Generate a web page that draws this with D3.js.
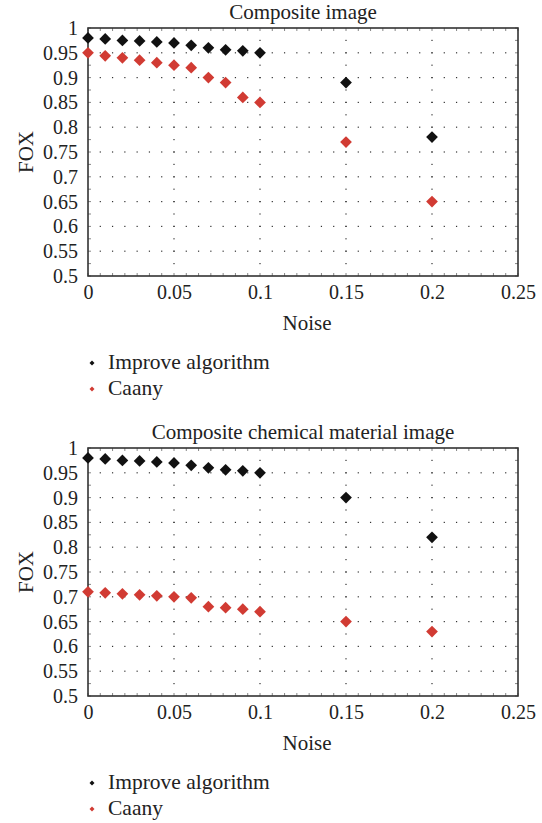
<!DOCTYPE html>
<html><head><meta charset="utf-8">
<script src="https://cdn.jsdelivr.net/npm/d3@7"></script>
<style>
body{margin:0;background:#fff;}
</style></head>
<body><svg id="c" width="542" height="823" font-family="'Liberation Serif', 'Times New Roman', serif"></svg>
<script>
const noise = [0,0.01,0.02,0.03,0.04,0.05,0.06,0.07,0.08,0.09,0.1,0.15,0.2];
const titles = ["Composite image","Composite chemical material image"];
const seriesNames = ["Improve algorithm","Caany"];
const improve1 = [0.98,0.978,0.975,0.974,0.972,0.97,0.965,0.96,0.956,0.954,0.95,0.89,0.78];
const caany1   = [0.95,0.944,0.94,0.935,0.93,0.925,0.92,0.90,0.89,0.86,0.85,0.77,0.65];
const improve2 = [0.98,0.978,0.975,0.974,0.972,0.97,0.965,0.96,0.956,0.954,0.95,0.90,0.82];
const caany2   = [0.71,0.708,0.706,0.704,0.702,0.70,0.698,0.68,0.678,0.675,0.67,0.65,0.63];
const xTicks = [0,0.05,0.1,0.15,0.2,0.25];
const yTicks = [0.5,0.55,0.6,0.65,0.7,0.75,0.8,0.85,0.9,0.95,1];
const colors = ["#111111","#d13b33"];
const FF = "'Liberation Serif', 'Times New Roman', serif";

const svg = d3.select("#c");
const L=88, R=518, PT=28, PB=276;
const fmt = d=>String(+d.toFixed(2));

function panel(off, title, a, b){
  const g = svg.append("g").attr("transform",`translate(0,${off})`).attr("font-family",FF);
  const x = d3.scaleLinear().domain([0,0.25]).range([L,R]);
  const y = d3.scaleLinear().domain([0.5,1]).range([PB,PT]);
  const xMinor = d3.range(0,0.25+1e-9,0.05/7);
  const yMinor = d3.range(0.5,1+1e-9,0.025);
  const grid = g.append("g").attr("fill","#333");
  yTicks.filter(v=>v>0.5&&v<1).forEach(v=>{
    xMinor.filter(u=>u>0.001&&u<0.249).forEach(u=>{
      grid.append("rect").attr("x",x(u)-0.6).attr("y",y(v)-0.6).attr("width",1.2).attr("height",1.2);
    });
  });
  xTicks.filter(u=>u>0&&u<0.25).forEach(u=>{
    yMinor.filter(v=>v>0.501&&v<0.999).forEach(v=>{
      grid.append("rect").attr("x",x(u)-0.6).attr("y",y(v)-0.6).attr("width",1.2).attr("height",1.2);
    });
  });
  const mt = g.append("g").attr("stroke","#666").attr("stroke-width",0.8);
  xMinor.forEach(u=>{
    mt.append("line").attr("x1",x(u)).attr("x2",x(u)).attr("y1",PB).attr("y2",PB-3);
    mt.append("line").attr("x1",x(u)).attr("x2",x(u)).attr("y1",PT).attr("y2",PT+3);
  });
  yMinor.forEach(v=>{
    mt.append("line").attr("y1",y(v)).attr("y2",y(v)).attr("x1",L).attr("x2",L+3);
    mt.append("line").attr("y1",y(v)).attr("y2",y(v)).attr("x1",R).attr("x2",R-3);
  });
  g.append("rect").attr("x",L).attr("y",PT).attr("width",R-L).attr("height",PB-PT)
    .attr("fill","none").attr("stroke","#333").attr("stroke-width",1.6);
  const xa = g.append("g").attr("transform",`translate(0,${PB})`)
    .call(d3.axisBottom(x).tickValues(xTicks).tickSize(0).tickPadding(0).tickFormat(fmt));
  xa.attr("font-family",FF).attr("font-size",20);
  xa.select(".domain").remove();
  xa.selectAll("text").attr("dy",null).attr("y",23).attr("fill","#222");
  const ya = g.append("g").attr("transform",`translate(${L},0)`)
    .call(d3.axisLeft(y).tickValues(yTicks).tickSize(0).tickPadding(10).tickFormat(fmt));
  ya.attr("font-family",FF).attr("font-size",20);
  ya.select(".domain").remove();
  ya.selectAll("text").attr("fill","#222");
  g.append("text").attr("x",(L+R)/2).attr("y",19).attr("text-anchor","middle").attr("font-size",21).attr("fill","#222").text(title);
  g.append("text").attr("x",(L+R)/2+4).attr("y",330).attr("text-anchor","middle").attr("font-size",21).attr("fill","#222").text("Noise");
  g.append("text").attr("transform",`translate(33,${(PT+PB)/2}) rotate(-90)`).attr("text-anchor","middle").attr("font-size",21).attr("fill","#222").text("FOX");
  const sym = d3.symbol().type(d3.symbolDiamond2).size(88);
  [a,b].forEach((vals,si)=>{
    g.append("g").selectAll("path").data(vals).join("path")
      .attr("transform",(d,i)=>`translate(${x(noise[i])},${y(d)})`)
      .attr("d",sym).attr("fill",colors[si]);
  });
  const ls = d3.symbol().type(d3.symbolDiamond2).size(16);
  seriesNames.forEach((n,i)=>{
    const yy = 363 + i*26;
    g.append("path").attr("transform",`translate(92,${yy})`).attr("d",ls).attr("fill",colors[i]);
    g.append("text").attr("x",108).attr("y",yy+6).attr("font-size",21.5).attr("fill","#222").text(n);
  });
}
panel(0,titles[0],improve1,caany1);
panel(420,titles[1],improve2,caany2);
</script></body></html>
